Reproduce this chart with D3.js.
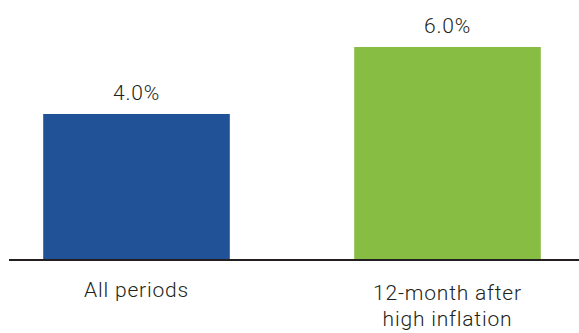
<!DOCTYPE html>
<meta charset="utf-8">
<title>Returns after high inflation</title>
<style>

body {
  margin: 0;
  background: #fff;
}

svg text {
  font-family: Roboto, "Liberation Sans", sans-serif;
  font-weight: 300;
  font-size: 21px;
  letter-spacing: 0.8px;
  fill: #231f20;
}

.baseline {
  stroke: #231f20;
  stroke-width: 1.3;
  shape-rendering: crispEdges;
}

</style>
<body>
<script src="https://d3js.org/d3.v7.min.js"></script>
<script>

var categories = ["All periods", "12-month after high inflation"];
var labelLines = [["All periods"], ["12-month after", "high inflation"]];
var values = [4.0, 6.0];
var valueLabels = ["4.0%", "6.0%"];
var colors = ["#215297", "#86bd42"];

var width = 579,
    height = 333,
    base = 260;

var x = d3.scaleBand()
    .domain(categories)
    .range([7, 577])
    .paddingInner(0.4)
    .paddingOuter(0.1164);

var y = d3.scaleLinear()
    .domain([-0.36, 6])
    .range([base, 47]);

var svg = d3.select("body").append("svg")
    .attr("width", width)
    .attr("height", height);

svg.selectAll(".bar")
    .data(values)
  .enter().append("rect")
    .attr("class", "bar")
    .attr("x", function(d, i) { return x(categories[i]); })
    .attr("width", x.bandwidth())
    .attr("y", function(d) { return y(d); })
    .attr("height", function(d) { return base - y(d); })
    .style("fill", function(d, i) { return colors[i]; });

svg.append("line")
    .attr("class", "baseline")
    .attr("x1", 9)
    .attr("x2", width)
    .attr("y1", base)
    .attr("y2", base);

svg.selectAll(".value")
    .data(values)
  .enter().append("text")
    .attr("class", "value")
    .attr("x", function(d, i) { return x(categories[i]) + x.bandwidth() / 2; })
    .attr("y", function(d) { return y(d) - 14; })
    .attr("text-anchor", "middle")
    .text(function(d, i) { return valueLabels[i]; });

var cat = svg.selectAll(".cat")
    .data(categories)
  .enter().append("text")
    .attr("class", "cat")
    .attr("x", function(d) { return x(d) + x.bandwidth() / 2; })
    .attr("y", function(d, i) { return i === 0 ? 297 : 300; })
    .attr("text-anchor", "middle");

cat.selectAll("tspan")
    .data(function(d, i) { return labelLines[i]; })
  .enter().append("tspan")
    .attr("x", function() { return d3.select(this.parentNode).attr("x"); })
    .attr("dy", function(d, j) { return j === 0 ? 0 : 26; })
    .text(function(d) { return d; });

</script>
</body>
